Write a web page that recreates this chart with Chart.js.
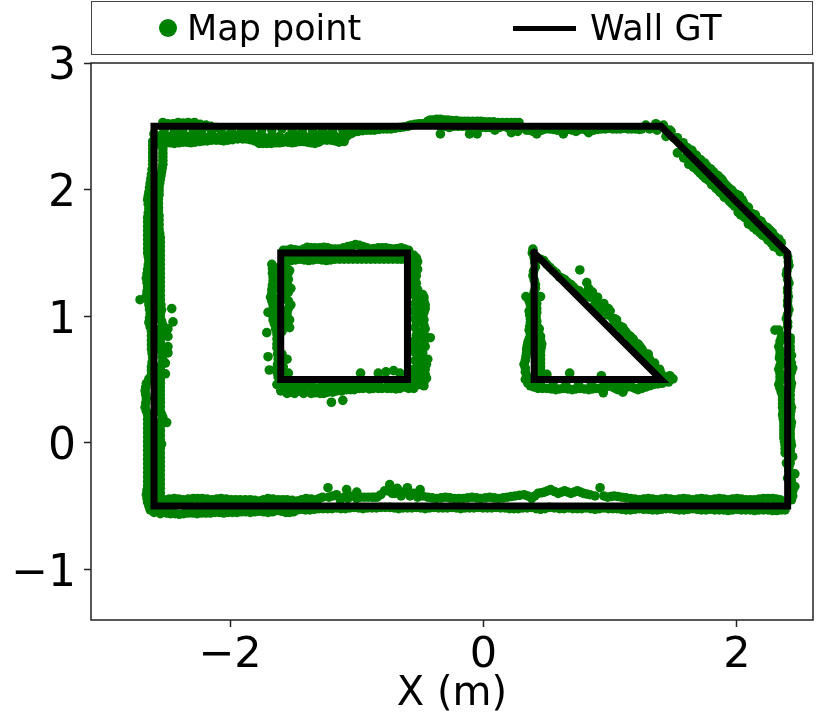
<!DOCTYPE html>
<html>
<head>
<meta charset="utf-8">
<title>Map points and wall ground truth</title>
<script src="https://cdn.jsdelivr.net/npm/chart.js@4"></script>
<style>
  body { margin: 0; background: #fff; font-family: "DejaVu Sans", sans-serif; }
  #wrap { position: relative; width: 830px; height: 720px; }
  #legend { position: absolute; left: 91px; top: 1px; width: 720px; height: 52px; border: 1.5px solid #444; }
  #legend span { position: absolute; color: #000; font-size: 35px; line-height: 35px; top: 9px; white-space: nowrap; }
  #dot { position: absolute; left: 67px; top: 17px; width: 18px; height: 18px; border-radius: 50%; background: green; }
  #dash { position: absolute; left: 421px; top: 24px; width: 63px; height: 5px; background: #000; }
</style>
</head>
<body>
<div id="wrap">
  <canvas id="myChart" width="830" height="720"></canvas>
  <div id="legend">
    <div id="dot"></div><span id="lab0" style="left:95px"></span>
    <div id="dash"></div><span id="lab1" style="left:498px"></span>
  </div>
</div>
<script>
const xTicks = [-2, 0, 2];
const yTicks = [-1, 0, 1, 2, 3];
const xTitle = "X (m)";
const seriesNames = ["Map point", "Wall GT"];

// ground truth walls, null breaks the line between rooms
const wallX = [-2.6, 1.4, 2.4, 2.4, -2.6, -2.6, null, -1.6, -0.6, -0.6, -1.6, -1.6, null, 0.4, 1.4, 0.4, 0.4];
const wallY = [2.5, 2.5, 1.5, -0.5, -0.5, 2.5, null, 1.5, 1.5, 0.5, 0.5, 1.5, null, 1.5, 0.5, 0.5, 1.5];

// map points, wall by wall
const mapTop = [
  [-2.53,2.53],[-2.45,2.52],[-2.41,2.53],[-2.33,2.53],[-2.28,2.53],[-2.19,2.51],[-2.11,2.49],
  [-2.56,2.36],[-2.5,2.37],[-2.44,2.365],[-2.37,2.375],[-2.31,2.37],[-2.24,2.38],[-2.18,2.385],[-2.11,2.39],
  [-2.05,2.385],[-1.98,2.395],[-1.9,2.4],[-1.84,2.395],[-1.77,2.365],[-1.71,2.365],[-1.64,2.37],[-1.58,2.375],
  [-1.51,2.37],[-1.45,2.38],[-1.39,2.375],[-1.33,2.365],[-1.27,2.39],[-1.2,2.39],[-1.14,2.375],[-1.1,2.38],
  [-2.54,2.43],[-2.47,2.42],[-2.41,2.43],[-2.34,2.42],[-2.27,2.43],[-2.21,2.42],[-2.14,2.43],[-2.08,2.42],
  [-2.01,2.43],[-1.94,2.43],[-1.87,2.44],[-1.8,2.42],[-1.74,2.42],[-1.67,2.43],[-1.61,2.42],[-1.54,2.42],
  [-1.48,2.43],[-1.41,2.42],[-1.36,2.42],[-1.3,2.43],[-1.23,2.43],[-1.17,2.42],[-1.11,2.43],
  [-2.52,2.47],[-2.44,2.47],[-2.37,2.48],[-2.29,2.47],[-2.22,2.48],[-2.15,2.47],[-2.07,2.47],[-1.99,2.47],
  [-1.91,2.48],[-1.83,2.47],[-1.75,2.47],[-1.67,2.47],[-1.59,2.48],[-1.51,2.47],[-1.43,2.47],[-1.35,2.47],
  [-1.27,2.47],[-1.19,2.47],[-1.11,2.47],
  [-1.05,2.44],[-0.99,2.46],[-0.92,2.47],[-0.86,2.47],[-0.79,2.48],[-0.73,2.48],[-0.66,2.49],[-0.6,2.5],
  [-0.57,2.51],[-0.51,2.52],[-0.46,2.52],[-0.42,2.55],[-0.37,2.555],[-0.31,2.55],[-0.25,2.545],[-0.18,2.54],
  [-0.12,2.54],[-0.05,2.54],[0.01,2.535],[0.08,2.535],[0.15,2.53],[0.22,2.53],[0.28,2.53],
  [-0.34,2.5],[-0.34,2.44],[-0.27,2.49],[-0.2,2.5],[-0.13,2.5],[-0.11,2.44],[-0.05,2.5],[-0.05,2.44],
  [0.02,2.49],[0.09,2.47],[0.16,2.5],[0.22,2.45],[0.27,2.46],
  [0.3,2.49],[0.34,2.47],[0.39,2.46],[0.42,2.44],[0.46,2.47],[0.52,2.48],[0.58,2.47],[0.63,2.44],[0.67,2.48],
  [0.73,2.46],[0.79,2.48],[0.83,2.45],[0.87,2.47],[0.93,2.48],[0.99,2.485],[1.05,2.48],[1.11,2.485],[1.17,2.48],
  [1.23,2.475],[1.28,2.51],[1.31,2.48],[1.36,2.52],[1.37,2.47],[1.42,2.51],[1.47,2.47],
  [-2.53,2.365],[-2.47,2.37],[-2.405,2.37],[-2.34,2.375],[-2.275,2.375],[-2.21,2.385],[-2.145,2.39],[-2.08,2.39],
  [-2.015,2.39],[-1.94,2.4],[-1.87,2.4],[-1.805,2.385],[-1.74,2.365],[-1.675,2.365],[-1.61,2.37],[-1.545,2.375],
  [-1.48,2.375],[-1.42,2.38],[-1.36,2.37],[-1.3,2.375],[-1.235,2.39],[-1.17,2.385],
  [-2.56,2.4],[-2.5,2.405],[-2.44,2.4],[-2.38,2.41],[-2.31,2.405],[-2.24,2.41],[-2.17,2.41],[-2.11,2.41],[-2.04,2.41],
  [-1.97,2.42],[-1.83,2.42],[-1.77,2.4],[-1.7,2.4],[-1.64,2.4],[-1.57,2.4],[-1.51,2.4],[-1.44,2.4],[-1.38,2.4],
  [-1.32,2.4],[-1.25,2.41],[-1.19,2.41],[-1.13,2.41],[-1.08,2.42],[-1.03,2.45],
  [-2.49,2.52],[-2.37,2.525],[-2.235,2.515],[-2.15,2.5],
  [-0.955,2.465],[-0.89,2.47],[-0.825,2.475],[-0.76,2.48],[-0.695,2.485],[-0.63,2.495],[-0.585,2.505],[-0.54,2.515],
  [-0.485,2.52],[-0.44,2.54],[-0.395,2.55],[-0.34,2.555],[-0.28,2.55],[-0.215,2.545],[-0.15,2.54],[-0.085,2.54],
  [-0.02,2.54],[0.045,2.535],[0.115,2.53],[0.185,2.53],[0.25,2.53],
  [-0.3,2.5],[-0.235,2.5],[-0.165,2.5],[-0.09,2.5],[-0.02,2.49],[0.055,2.49],[0.125,2.49],[0.19,2.49],[0.25,2.49],
  [0.32,2.485],[0.365,2.47],[0.44,2.47],[0.49,2.48],[0.55,2.475],[0.6,2.47],[0.65,2.47],[0.7,2.47],[0.76,2.475],
  [0.81,2.47],[0.85,2.47],[0.9,2.475],[0.96,2.48],[1.02,2.48],[1.08,2.48],[1.14,2.48],[1.2,2.48],[1.25,2.48],
  [1.335,2.49],[1.39,2.5],[1.45,2.45]
];
const mapDiag = [
  [1.44,2.42],[1.5,2.41],[1.53,2.29],[1.56,2.36],[1.58,2.25],[1.59,2.34],[1.61,2.24],[1.63,2.3],[1.64,2.2],
  [1.66,2.28],[1.67,2.17],[1.7,2.24],[1.71,2.13],[1.73,2.21],[1.75,2.09],[1.76,2.19],[1.78,2.07],[1.8,2.15],
  [1.82,2.03],[1.83,2.12],[1.85,2.0],[1.87,2.09],[1.88,1.97],[1.9,2.05],[1.92,1.93],[1.94,2.01],[1.96,1.89],
  [1.98,1.97],[2.0,1.86],[2.02,1.95],[2.04,1.92],[2.01,1.82],[2.06,1.78],[2.07,1.87],[2.09,1.73],[2.12,1.81],
  [2.13,1.7],[2.17,1.76],[2.18,1.66],[2.21,1.72],[2.22,1.63],[2.26,1.68],[2.27,1.58],[2.3,1.63],[2.32,1.54],
  [2.35,1.58],[2.37,1.51],
  [1.62,2.2],[1.655,2.18],[1.69,2.15],[1.73,2.11],[1.765,2.08],[1.8,2.04],[1.835,2.01],[1.865,1.98],[1.9,1.94],
  [1.94,1.91],[1.98,1.87],[2.03,1.8],[2.075,1.77],[2.11,1.72],[2.155,1.68],[2.2,1.64],[2.245,1.6],[2.29,1.55],[2.34,1.51],
  [1.48,2.46],[1.53,2.41],[1.575,2.37],[1.61,2.33],[1.645,2.31],[1.68,2.27],[1.715,2.235],[1.745,2.21],[1.79,2.165],
  [1.815,2.14],[1.85,2.11],[1.885,2.075],[1.92,2.03],[1.96,1.995],[2.0,1.96],[2.05,1.9],[2.09,1.86],[2.145,1.8],
  [2.19,1.75],[2.24,1.7],[2.28,1.66],[2.33,1.61]
];
const mapRight = [
  [2.4,1.47],[2.41,1.4],[2.39,1.33],[2.41,1.26],[2.4,1.19],[2.4,1.12],[2.41,1.05],[2.39,0.98],[2.4,0.92],
  [2.3,0.89],[2.33,0.89],[2.39,0.85],
  [2.35,0.83],[2.42,0.8],[2.33,0.76],[2.42,0.73],[2.34,0.7],[2.44,0.59],[2.35,0.64],[2.42,0.66],[2.33,0.58],
  [2.42,0.52],[2.34,0.52],[2.43,0.47],[2.33,0.46],[2.42,0.41],[2.35,0.4],[2.42,0.34],[2.36,0.34],[2.43,0.28],
  [2.36,0.28],[2.42,0.22],[2.36,0.22],[2.43,0.16],[2.37,0.16],[2.42,0.1],[2.37,0.1],[2.42,0.04],[2.37,0.04],
  [2.43,-0.02],[2.38,-0.02],[2.42,-0.07],[2.38,-0.08],[2.44,-0.11],[2.42,-0.16],[2.39,-0.16],[2.41,-0.22],
  [2.457,-0.245],[2.4,-0.28],[2.42,-0.33],[2.457,-0.345],[2.44,-0.38],[2.42,-0.41],[2.43,-0.45],
  [2.405,1.43],[2.395,1.36],[2.4,1.29],[2.4,1.22],[2.405,1.155],[2.4,1.085],[2.4,1.015],[2.4,0.95],
  [2.34,0.8],[2.34,0.73],[2.335,0.67],[2.34,0.61],[2.34,0.55],[2.34,0.49],[2.34,0.43],[2.36,0.37],[2.36,0.31],
  [2.365,0.25],[2.365,0.19],[2.37,0.13],[2.37,0.07],[2.375,0.01],[2.38,-0.05],
  [2.42,0.83],[2.42,0.76],[2.43,0.69],[2.43,0.63],[2.43,0.56],[2.42,0.495],[2.425,0.44],[2.42,0.375],[2.42,0.31],
  [2.425,0.25],[2.42,0.19],[2.425,0.13],[2.42,0.07],[2.425,0.01],[2.42,-0.05],[2.42,-0.11],[2.41,-0.19],[2.42,-0.26],
  [2.43,-0.3],[2.445,-0.36],[2.44,-0.42]
];
const mapBottom = [
  [-2.57,-0.53],[-2.53,-0.55],[-2.47,-0.56],[-2.4,-0.565],[-2.33,-0.555],[-2.26,-0.56],[-2.19,-0.555],[-2.12,-0.55],
  [-2.05,-0.555],[-1.98,-0.55],[-1.91,-0.545],[-1.84,-0.55],[-1.77,-0.54],[-1.7,-0.55],[-1.63,-0.535],[-1.56,-0.55],
  [-1.5,-0.545],[-1.44,-0.525],[-1.37,-0.53],[-1.3,-0.52],[-1.23,-0.52],[-1.16,-0.515],[-1.09,-0.52],[-1.02,-0.51],
  [-0.95,-0.52],[-0.88,-0.515],[-0.81,-0.51],[-0.74,-0.51],[-0.67,-0.52],[-0.6,-0.515],[-0.53,-0.51],[-0.46,-0.52],
  [-0.39,-0.51],[-0.32,-0.515],[-0.25,-0.51],[-0.18,-0.52],[-0.11,-0.515],[-0.04,-0.51],[0.03,-0.515],[0.1,-0.51],
  [0.17,-0.515],[0.24,-0.52],[0.31,-0.515],[0.38,-0.51],[0.45,-0.525],[0.52,-0.51],[0.6,-0.52],[0.67,-0.515],
  [0.74,-0.52],[0.81,-0.515],[0.88,-0.525],[0.95,-0.515],[1.02,-0.52],[1.09,-0.525],[1.16,-0.53],[1.23,-0.52],
  [1.3,-0.525],[1.37,-0.53],[1.44,-0.52],[1.51,-0.525],[1.58,-0.53],[1.65,-0.52],[1.72,-0.53],[1.79,-0.525],
  [1.86,-0.53],[1.93,-0.535],[2.0,-0.525],[2.07,-0.53],[2.14,-0.535],[2.21,-0.53],[2.28,-0.535],[2.35,-0.53],
  [-2.52,-0.45],[-2.44,-0.44],[-2.37,-0.45],[-2.29,-0.44],[-2.22,-0.44],[-2.14,-0.45],[-2.07,-0.44],[-1.99,-0.45],
  [-1.92,-0.45],[-1.84,-0.45],[-1.77,-0.46],[-1.7,-0.44],[-1.62,-0.45],[-1.55,-0.45],[-1.47,-0.46],[-1.4,-0.44],
  [-1.32,-0.45],[-1.27,-0.43],[-1.227,-0.355],[-1.22,-0.43],[-1.16,-0.41],[-1.13,-0.45],[-1.08,-0.37],[-1.07,-0.44],
  [-1.0,-0.39],[-1.0,-0.44],[-0.94,-0.43],[-0.88,-0.43],[-0.84,-0.43],[-0.78,-0.38],[-0.74,-0.33],[-0.72,-0.4],
  [-0.68,-0.36],[-0.65,-0.42],[-0.6,-0.355],[-0.58,-0.42],[-0.52,-0.43],[-0.5,-0.37],[-0.44,-0.43],[-0.37,-0.44],
  [-0.3,-0.43],[-0.23,-0.44],[-0.16,-0.44],[-0.09,-0.43],[-0.02,-0.44],[0.05,-0.43],[0.12,-0.44],[0.19,-0.43],
  [0.25,-0.42],[0.32,-0.41],[0.38,-0.44],[0.43,-0.4],[0.48,-0.39],[0.53,-0.37],[0.59,-0.4],[0.64,-0.38],[0.69,-0.4],
  [0.74,-0.38],[0.79,-0.4],[0.84,-0.41],[0.92,-0.355],[0.98,-0.43],[1.03,-0.42],[1.09,-0.43],[1.16,-0.44],[1.23,-0.45],
  [1.3,-0.44],[1.37,-0.45],[1.44,-0.44],[1.51,-0.45],[1.58,-0.44],[1.65,-0.45],[1.72,-0.44],[1.79,-0.45],[1.86,-0.44],
  [1.93,-0.45],[2.0,-0.44],[2.07,-0.45],[2.14,-0.45],[2.21,-0.44],[2.28,-0.44],[2.34,-0.45],
  [-2.55,-0.54],[-2.5,-0.555],[-2.435,-0.56],[-2.365,-0.56],[-2.295,-0.555],[-2.225,-0.555],[-2.155,-0.555],[-2.085,-0.55],
  [-2.015,-0.55],[-1.945,-0.55],[-1.875,-0.545],[-1.805,-0.545],[-1.735,-0.545],[-1.665,-0.545],[-1.595,-0.54],[-1.53,-0.55],
  [-1.47,-0.53],[-1.405,-0.53],[-1.335,-0.525],[-1.265,-0.52],[-1.195,-0.52],[-1.125,-0.52],[-1.055,-0.515],[-0.985,-0.515],
  [-0.915,-0.515],[-0.845,-0.515],[-0.775,-0.51],[-0.705,-0.515],[-0.635,-0.515],[-0.565,-0.515],[-0.495,-0.515],[-0.425,-0.515],
  [-0.355,-0.515],[-0.285,-0.515],[-0.215,-0.515],[-0.145,-0.515],[-0.075,-0.515],[-0.005,-0.515],[0.065,-0.515],[0.135,-0.515],
  [0.205,-0.52],[0.275,-0.52],[0.345,-0.515],[0.415,-0.52],[0.485,-0.52],[0.56,-0.515],[0.635,-0.52],[0.705,-0.52],
  [0.775,-0.52],[0.845,-0.52],[0.915,-0.52],[0.985,-0.52],[1.055,-0.52],[1.125,-0.53],[1.195,-0.525],[1.265,-0.525],
  [1.335,-0.53],[1.405,-0.525],[1.475,-0.52],[1.545,-0.53],[1.615,-0.525],[1.685,-0.525],[1.755,-0.53],[1.825,-0.53],
  [1.895,-0.53],[1.965,-0.53],[2.035,-0.53],[2.105,-0.53],[2.175,-0.53],[2.245,-0.53],[2.315,-0.535],[2.38,-0.53],
  [-2.48,-0.445],[-2.405,-0.445],[-2.33,-0.445],[-2.255,-0.44],[-2.18,-0.445],[-2.105,-0.445],[-2.03,-0.445],[-1.955,-0.45],
  [-1.88,-0.45],[-1.805,-0.455],[-1.735,-0.45],[-1.66,-0.445],[-1.585,-0.45],[-1.51,-0.455],[-1.435,-0.45],[-1.36,-0.445],
  [-1.295,-0.44],[-1.19,-0.42],[-1.1,-0.43],[-1.035,-0.42],[-0.97,-0.43],[-0.91,-0.43],[-0.86,-0.43],[-0.81,-0.41],
  [-0.75,-0.38],[-0.7,-0.4],[-0.63,-0.39],[-0.55,-0.4],[-0.48,-0.42],[-0.405,-0.435],[-0.335,-0.435],[-0.265,-0.435],
  [-0.195,-0.44],[-0.125,-0.435],[-0.055,-0.435],[0.015,-0.435],[0.085,-0.435],[0.155,-0.435],[0.22,-0.425],[0.285,-0.415],
  [0.35,-0.42],[0.405,-0.42],[0.455,-0.395],[0.505,-0.38],[0.56,-0.385],[0.615,-0.39],[0.665,-0.39],[0.715,-0.39],[0.765,-0.39],
  [0.815,-0.405],[0.88,-0.42],[0.95,-0.42],[1.005,-0.425],[1.06,-0.425],[1.125,-0.435],[1.195,-0.445],[1.265,-0.445],
  [1.335,-0.445],[1.405,-0.445],[1.475,-0.445],[1.545,-0.445],[1.615,-0.445],[1.685,-0.445],[1.755,-0.445],[1.825,-0.445],
  [1.895,-0.445],[1.965,-0.445],[2.035,-0.445],[2.105,-0.45],[2.175,-0.445],[2.245,-0.44],[2.31,-0.445]
];
const mapLeft = [
  [-2.6,2.44],[-2.55,2.4],[-2.61,2.38],[-2.53,2.32],[-2.61,2.32],[-2.53,2.26],[-2.61,2.26],[-2.53,2.2],[-2.61,2.2],
  [-2.54,2.14],[-2.62,2.12],[-2.55,2.08],[-2.63,2.05],[-2.56,2.02],[-2.64,1.98],[-2.56,1.96],[-2.65,1.92],[-2.565,1.89],
  [-2.64,1.85],[-2.565,1.83],[-2.65,1.78],[-2.56,1.76],[-2.65,1.71],[-2.56,1.69],[-2.65,1.64],[-2.55,1.62],[-2.65,1.57],
  [-2.55,1.55],[-2.65,1.5],[-2.55,1.48],[-2.64,1.44],[-2.55,1.41],[-2.65,1.37],[-2.55,1.34],[-2.66,1.3],[-2.55,1.27],
  [-2.65,1.23],[-2.55,1.2],[-2.66,1.16],[-2.71,1.13],[-2.55,1.13],[-2.64,1.09],[-2.46,1.06],[-2.54,1.05],[-2.63,1.02],
  [-2.55,0.99],[-2.45,0.955],[-2.64,0.95],[-2.53,0.93],[-2.49,0.9],[-2.62,0.88],[-2.55,0.87],[-2.49,0.84],[-2.62,0.81],
  [-2.55,0.8],[-2.49,0.76],[-2.62,0.74],[-2.54,0.72],[-2.49,0.71],[-2.61,0.67],[-2.53,0.65],[-2.51,0.63],[-2.62,0.6],
  [-2.55,0.58],[-2.51,0.545],[-2.62,0.54],[-2.55,0.5],[-2.66,0.47],[-2.55,0.44],[-2.67,0.41],[-2.55,0.38],[-2.66,0.35],
  [-2.55,0.32],[-2.67,0.28],[-2.55,0.25],[-2.65,0.22],[-2.53,0.2],[-2.5,0.16],[-2.65,0.15],[-2.55,0.13],[-2.65,0.08],
  [-2.55,0.06],[-2.65,0.01],[-2.54,-0.01],[-2.65,-0.06],[-2.55,-0.08],[-2.65,-0.13],[-2.55,-0.15],[-2.65,-0.2],
  [-2.55,-0.22],[-2.65,-0.27],[-2.55,-0.29],[-2.65,-0.34],[-2.55,-0.36],[-2.66,-0.41],[-2.55,-0.43],[-2.65,-0.47],[-2.63,-0.53],
  [-2.53,2.35],[-2.53,2.29],[-2.53,2.23],[-2.535,2.17],[-2.545,2.11],[-2.555,2.05],[-2.56,1.99],[-2.565,1.925],[-2.565,1.86],
  [-2.56,1.795],[-2.56,1.725],[-2.555,1.655],[-2.55,1.585],[-2.55,1.515],[-2.55,1.445],[-2.55,1.375],[-2.55,1.305],[-2.55,1.235],
  [-2.55,1.165],[-2.545,1.09],[-2.55,1.02],[-2.54,0.96],[-2.55,0.9],[-2.55,0.835],[-2.545,0.76],[-2.535,0.685],[-2.54,0.615],
  [-2.55,0.54],[-2.55,0.47],[-2.55,0.41],[-2.55,0.35],[-2.55,0.285],[-2.54,0.225],[-2.55,0.165],[-2.55,0.095],[-2.55,0.025],
  [-2.55,-0.045],[-2.55,-0.115],[-2.55,-0.185],[-2.55,-0.255],[-2.55,-0.325],[-2.55,-0.395],[-2.55,-0.465],
  [-2.61,2.35],[-2.61,2.29],[-2.61,2.23],[-2.615,2.16],[-2.625,2.085],[-2.635,2.015],[-2.645,1.95],[-2.645,1.885],[-2.645,1.815],
  [-2.65,1.745],[-2.65,1.675],[-2.65,1.605],[-2.65,1.535],[-2.645,1.47],[-2.645,1.405],[-2.655,1.335],[-2.655,1.265],[-2.655,1.195],
  [-2.645,1.125],[-2.635,1.055],[-2.635,0.985],[-2.63,0.915],[-2.62,0.845],[-2.62,0.775],[-2.615,0.705],[-2.615,0.635],[-2.62,0.57],
  [-2.64,0.505],[-2.665,0.44],[-2.665,0.38],[-2.665,0.315],[-2.66,0.25],[-2.65,0.185],[-2.65,0.115],[-2.65,0.045],[-2.65,-0.025],
  [-2.65,-0.095],[-2.65,-0.165],[-2.65,-0.235],[-2.65,-0.305],[-2.655,-0.375],[-2.655,-0.44],[-2.64,-0.5],[-2.6,-0.55],[-2.55,-0.56]
];
const mapSquare = [
  [-1.58,1.52],[-1.52,1.53],[-1.46,1.52],[-1.39,1.545],[-1.33,1.54],[-1.26,1.545],[-1.2,1.53],[-1.14,1.53],[-1.07,1.55],
  [-1.01,1.565],[-0.95,1.55],[-0.89,1.53],[-0.83,1.54],[-0.77,1.54],[-0.71,1.53],[-0.65,1.54],[-0.59,1.52],
  [-1.58,1.44],[-1.52,1.44],[-1.45,1.45],[-1.38,1.44],[-1.31,1.45],[-1.24,1.44],[-1.17,1.45],[-1.1,1.45],[-1.03,1.45],
  [-0.96,1.45],[-0.89,1.45],[-0.82,1.45],[-0.75,1.45],[-0.68,1.45],[-0.62,1.45],
  [-0.53,1.46],[-0.55,1.4],[-0.55,1.33],[-0.52,1.37],[-0.53,1.26],[-0.56,1.2],[-0.48,1.17],[-0.47,1.12],[-0.52,1.08],
  [-0.46,1.06],[-0.48,1.0],[-0.53,0.95],[-0.47,0.93],[-0.49,0.87],[-0.42,0.83],[-0.47,0.79],[-0.54,0.77],[-0.48,0.71],
  [-0.44,0.66],[-0.5,0.62],[-0.46,0.58],[-0.52,0.54],[-0.45,0.51],[-0.47,0.45],[-0.55,0.47],
  [-1.67,1.41],[-1.665,1.34],[-1.66,1.28],[-1.67,1.21],[-1.68,1.15],[-1.66,1.09],[-1.7,1.03],[-1.66,0.97],[-1.64,0.9],
  [-1.71,0.87],[-1.63,0.82],[-1.63,0.75],[-1.7,0.68],[-1.62,0.66],[-1.63,0.59],[-1.69,0.575],[-1.62,0.52],
  [-1.56,1.4],[-1.53,1.36],[-1.54,1.29],[-1.57,1.24],[-1.52,1.22],[-1.56,1.15],[-1.52,1.09],[-1.55,1.03],[-1.53,0.97],
  [-1.53,0.91],[-1.55,0.66],[-1.54,0.55],
  [-0.97,0.55],[-0.83,0.55],[-0.77,0.56],[-0.71,0.57],[-0.66,0.55],
  [-1.63,0.46],[-1.56,0.44],[-1.6,0.41],[-1.52,0.4],[-1.45,0.41],[-1.39,0.45],[-1.33,0.395],[-1.26,0.39],[-1.2,0.32],
  [-1.19,0.4],[-1.11,0.335],[-1.12,0.41],[-1.05,0.42],[-0.98,0.43],[-0.9,0.425],[-0.83,0.43],[-0.76,0.43],[-0.69,0.425],
  [-0.62,0.44],[-0.55,0.43],[-1.5,0.46],[-1.28,0.45],[-1.2,0.46],[-1.05,0.47],[-0.9,0.47],[-0.75,0.47],
  [-0.54,1.43],[-0.56,1.36],[-0.54,1.3],[-0.55,1.23],[-0.52,1.21],[-0.54,1.16],[-0.52,1.13],[-0.54,1.1],[-0.55,1.04],[-0.52,1.02],
  [-0.54,0.98],[-0.52,0.96],[-0.54,0.91],[-0.53,0.85],[-0.49,0.83],[-0.54,0.81],[-0.5,0.75],[-0.55,0.72],[-0.51,0.68],[-0.54,0.65],
  [-0.49,0.6],[-0.55,0.58],[-0.5,0.5],[-0.55,0.53],[-0.51,0.46],[-0.58,0.44],
  [-0.47,1.15],[-0.46,1.09],[-0.47,1.03],[-0.47,0.97],[-0.46,0.9],[-0.46,0.84],[-0.46,0.76],[-0.48,0.68],[-0.45,0.62],[-0.46,0.54],[-0.47,0.48],
  [-0.52,1.43],[-0.55,1.48],[-0.53,1.32],[-0.55,1.28],
  [-1.58,0.42],[-1.55,0.39],[-1.49,0.39],[-1.42,0.39],[-1.36,0.39],[-1.29,0.39],[-1.23,0.4],[-1.16,0.41],[-1.08,0.42],[-1.02,0.42],
  [-0.95,0.43],[-0.87,0.43],[-0.8,0.43],[-0.73,0.43],[-0.66,0.43],[-0.59,0.43],
  [-1.56,0.47],[-1.47,0.45],[-1.42,0.46],[-1.34,0.44],[-1.24,0.45],[-1.15,0.45],[-1.12,0.46],[-1.0,0.46],[-0.97,0.47],[-0.83,0.47],
  [-0.68,0.47],[-0.6,0.47],
  [-1.665,1.375],[-1.66,1.31],[-1.665,1.245],[-1.67,1.18],[-1.67,1.12],[-1.66,1.06],[-1.66,1.0],[-1.65,0.94],[-1.63,0.86],[-1.63,0.78],
  [-1.625,0.7],[-1.625,0.62],[-1.625,0.55],
  [-1.63,1.38],[-1.63,1.3],[-1.63,1.22],[-1.63,1.14],[-1.63,1.05],[-1.63,0.97],
  [-1.58,1.38],[-1.545,1.33],[-1.55,1.26],[-1.54,1.19],[-1.54,1.12],[-1.54,1.06],[-1.55,1.0],[-1.56,0.94],[-1.59,0.88],[-1.59,0.7],[-1.58,0.6],
  [-1.55,1.52],[-1.49,1.525],[-1.42,1.53],[-1.36,1.54],[-1.295,1.54],[-1.23,1.54],[-1.17,1.53],[-1.105,1.54],[-1.04,1.555],[-0.98,1.56],
  [-0.92,1.54],[-0.86,1.535],[-0.8,1.54],[-0.74,1.535],[-0.68,1.535],[-0.62,1.53],
  [-1.55,1.44],[-1.485,1.445],[-1.415,1.445],[-1.345,1.445],[-1.275,1.445],[-1.205,1.445],[-1.135,1.45],[-1.065,1.45],[-0.995,1.45],
  [-0.925,1.45],[-0.855,1.45],[-0.785,1.45],[-0.715,1.45],[-0.65,1.45]
];
const mapTriangle = [
  [0.39,1.53],[0.4,1.46],[0.41,1.39],[0.39,1.32],[0.41,1.25],[0.4,1.19],[0.335,1.155],[0.45,1.155],[0.37,1.09],[0.42,1.1],
  [0.36,1.04],[0.42,1.03],[0.37,0.98],[0.42,0.96],[0.365,0.92],[0.44,0.9],[0.37,0.86],[0.45,0.84],[0.35,0.79],[0.46,0.78],
  [0.34,0.74],[0.45,0.72],[0.335,0.68],[0.45,0.66],[0.32,0.62],[0.45,0.6],[0.33,0.56],[0.45,0.55],[0.35,0.5],
  [0.37,0.45],[0.43,0.43],[0.5,0.43],[0.57,0.42],[0.63,0.43],[0.7,0.42],[0.76,0.43],[0.83,0.42],[0.89,0.43],[0.945,0.395],
  [0.99,0.45],[1.04,0.43],[1.1,0.4],[1.08,0.45],[1.17,0.44],[1.22,0.42],[1.28,0.44],[1.34,0.46],[1.41,0.47],
  [0.68,0.55],[0.5,0.54],[0.93,0.53],
  [0.45,1.45],[0.5,1.41],[0.55,1.36],[0.6,1.31],[0.64,1.29],[0.69,1.25],[0.76,1.365],[0.73,1.21],[0.78,1.18],[0.815,1.265],
  [0.83,1.22],[0.84,1.15],[0.86,1.19],[0.9,1.1],[0.9,1.15],[0.95,1.1],[0.96,1.04],[1.0,1.04],[1.02,0.98],[1.05,0.97],
  [1.08,0.92],[1.1,0.91],[1.13,0.86],[1.16,0.84],[1.19,0.8],[1.22,0.78],[1.25,0.74],[1.27,0.71],[1.31,0.66],[1.33,0.63],
  [1.37,0.58],[1.4,0.55],[1.44,0.52],[1.495,0.505],
  [0.385,1.5],[0.405,1.425],[0.395,1.355],[0.4,1.285],[0.41,1.22],[0.395,1.16],[0.36,1.12],[0.38,1.06],[0.42,1.06],[0.365,1.01],
  [0.415,0.995],[0.37,0.95],[0.42,0.93],[0.36,0.89],[0.435,0.87],[0.36,0.82],[0.45,0.81],[0.345,0.765],[0.455,0.75],[0.34,0.71],
  [0.45,0.69],[0.33,0.65],[0.45,0.63],[0.33,0.59],[0.45,0.575],[0.34,0.53],[0.45,0.52],
  [0.33,0.5],[0.35,0.47],[0.4,0.44],[0.465,0.43],[0.535,0.425],[0.6,0.425],[0.665,0.425],[0.73,0.425],[0.795,0.425],[0.86,0.425],
  [0.92,0.43],[0.965,0.44],[1.02,0.44],[1.06,0.42],[1.13,0.44],[1.195,0.43],[1.25,0.43],[1.31,0.45],[1.375,0.465],
  [0.45,0.46],[0.55,0.46],[0.65,0.46],[0.75,0.46],[0.85,0.46],[0.95,0.46],[1.05,0.46],[1.15,0.46],[1.25,0.46],
  [0.475,1.44],[0.525,1.385],[0.575,1.34],[0.62,1.3],[0.665,1.265],[0.71,1.23],[0.755,1.2],[0.8,1.16],[0.845,1.17],[0.87,1.08],
  [0.88,1.13],[0.925,1.03],[0.925,1.08],[0.98,1.01],[0.985,1.06],[1.03,0.94],[1.035,0.98],[1.065,0.92],[1.095,0.86],[1.12,0.88],
  [1.15,0.79],[1.145,0.85],[1.205,0.74],[1.18,0.82],[1.235,0.76],[1.26,0.69],[1.29,0.66],[1.3,0.7],[1.34,0.61],[1.35,0.63],
  [1.39,0.58],[1.42,0.52],[1.46,0.48],[1.47,0.53]
];
const mapPoints = [...mapTop, ...mapDiag, ...mapRight, ...mapBottom, ...mapLeft, ...mapSquare, ...mapTriangle];

document.getElementById("lab0").textContent = seriesNames[0];
document.getElementById("lab1").textContent = seriesNames[1];

// full box round the plot, the scales only draw two sides
const frame = {
  id: "frame",
  afterDraw(chart) {
    const { ctx, chartArea: a } = chart;
    ctx.save();
    ctx.strokeStyle = "#222";
    ctx.lineWidth = 1.5;
    ctx.strokeRect(a.left, a.top, a.right - a.left, a.bottom - a.top);
    ctx.restore();
  }
};

const tickText = v => String(v).replace("-", "\u2212");

new Chart(document.getElementById("myChart"), {
  type: "scatter",
  plugins: [frame],
  data: {
    datasets: [
      {
        label: seriesNames[1],
        data: wallX.map((x, i) => x === null ? { x: NaN, y: NaN } : { x: x, y: wallY[i] }),
        showLine: true,
        spanGaps: false,
        borderColor: "#000",
        borderWidth: 7,
        borderJoinStyle: "miter",
        borderCapStyle: "square",
        pointRadius: 0,
        order: 0
      },
      {
        label: seriesNames[0],
        data: mapPoints.map(p => ({ x: p[0], y: p[1] })),
        backgroundColor: "green",
        borderColor: "green",
        borderWidth: 0,
        pointRadius: 4.8,
        order: 1
      }
    ]
  },
  options: {
    responsive: false,
    animation: false,
    layout: { padding: { top: 63, right: 17, left: 0, bottom: 0 } },
    plugins: { legend: { display: false }, tooltip: { enabled: false } },
    scales: {
      x: {
        type: "linear",
        min: -3.097,
        max: 2.6,
        afterBuildTicks: s => { s.ticks = xTicks.map(v => ({ value: v })); },
        afterFit: s => { s.height = 100; },
        grid: { drawOnChartArea: false, tickLength: 7, tickWidth: 1.5, tickColor: "#222" },
        border: { display: false },
        ticks: {
          autoSkip: false, maxRotation: 0, padding: 3, color: "#000",
          font: { family: "DejaVu Sans", size: 43 }, callback: tickText
        },
        title: {
          display: true, text: xTitle, color: "#000", padding: { top: 0, bottom: 1 },
          font: { family: "DejaVu Sans", size: 40 }
        }
      },
      y: {
        type: "linear",
        min: -1.4,
        max: 3,
        afterBuildTicks: s => { s.ticks = yTicks.map(v => ({ value: v })); },
        afterFit: s => { s.width = 91; },
        grid: { drawOnChartArea: false, tickLength: 7, tickWidth: 1.5, tickColor: "#222" },
        border: { display: false },
        ticks: {
          autoSkip: false, padding: 8, labelOffset: 5, color: "#000",
          font: { family: "DejaVu Sans", size: 44 }, callback: tickText
        }
      }
    }
  }
});
</script>
</body>
</html>
